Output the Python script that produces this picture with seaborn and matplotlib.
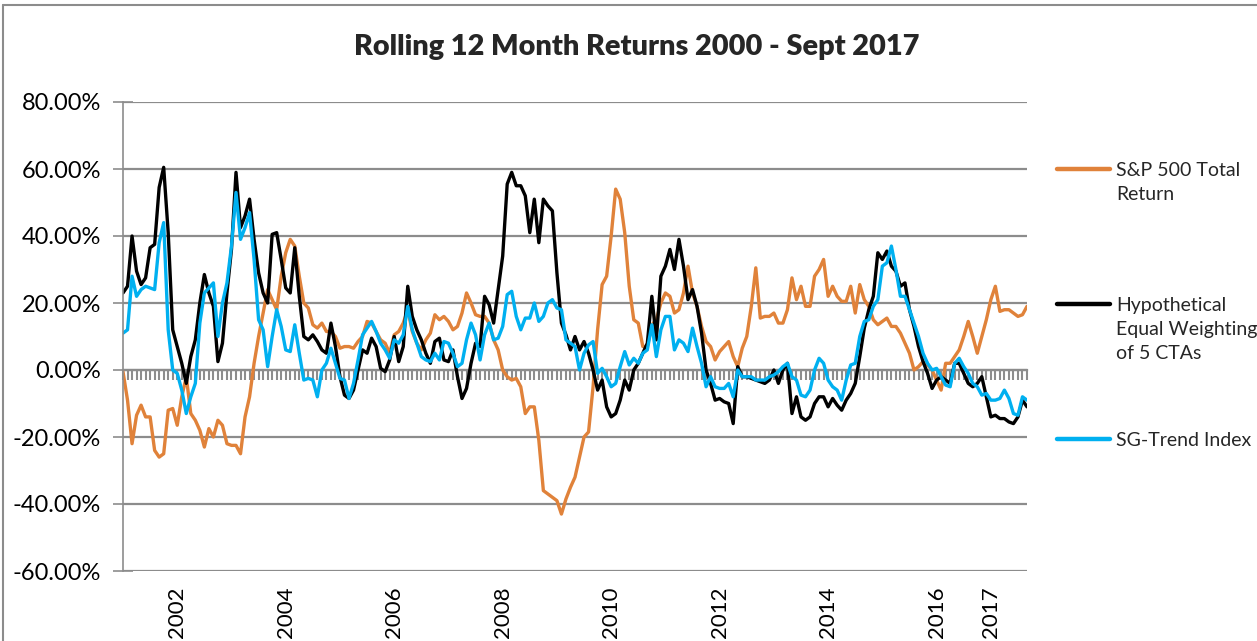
import numpy as np
import pandas as pd
import matplotlib
matplotlib.use("Agg")
import matplotlib.pyplot as plt
import seaborn as sns
from matplotlib.lines import Line2D
from matplotlib.ticker import FuncFormatter

# ---------------- data (rolling 12-month returns, %) ----------------
months = pd.date_range("2001-01-31", periods=201, freq="ME")

sp500 = [
    -0.5, -9, -22, -13.5, -10.5, -14, -14, -24, -26, -25, -12, -11.5, -16.5, -8, -2, -13, -15, -18, -23, -17.5,
    -20, -15, -16.5, -22, -22.5, -22.5, -25, -14, -8, 2, 10, 17, 24,
    21, 18, 28, 35, 39, 37, 28, 20, 18.5, 13.5, 12.5, 14, 11.5, 11.5, 10, 6.5, 7, 7, 6.5, 8.5, 10, 14.5,
    14, 11.5, 9, 8, 5, 10.5, 11.5, 14, 18, 11.5, 8,
    6, 9, 11, 16.5, 15, 16, 14.5, 12, 13, 17, 23, 20, 16.5, 16, 16, 14, 9, 6, 0, -2, -3, -2.5, -5, -13,
    -11, -11, -21, -36, -37, -38, -39, -43, -38.5, -35,
    -32, -26, -20, -18.5, -5, 12, 25.5, 28, 40, 54, 51, 41, 25, 15, 14, 7, 7, 13.5, 15, 20, 23, 22, 17, 18,
    23, 31, 23, 19, 13, 8.5, 7, 3, 5.5,
    7, 8.5, 4, 1, 6.5, 10, 19, 30.5, 15.5, 16, 16, 17, 14, 14, 18, 27.5, 21, 25, 19, 19, 28, 30, 33, 22,
    25, 22, 20.5, 20.5, 25, 17, 25.5,
    21, 19, 15, 13.5, 14.5, 15.5, 13, 13, 11, 8, 5, 0, 1, 2.5, 1.5, 0, -3, -6, 2, 2, 4, 6, 10, 14.5, 10, 5,
    10, 15, 21, 25, 17.5, 18, 18, 17, 16, 16.5, 19,
]

cta = [
    23, 25, 40, 29.5, 25.5, 27.5, 36.5, 37.5, 54.5, 60.5, 41, 12, 7, 2, -4, 4, 9, 20, 28.5, 23, 19, 2.5, 8,
    23, 36, 59, 42.5, 46, 51, 39, 29, 23, 20,
    40.5, 41, 33, 24.5, 23, 36.5, 22, 10, 9, 10.5, 8.5, 6, 5, 14, 7, -2, -7.5, -8.5, -6, 0, 6, 5, 9.5, 7,
    0.5, -0.5, 3, 10, 2.5, 7, 25, 16, 12,
    9, 5, 2, 8.5, 9.5, 3, 2.5, 6, -2, -8.5, -5.5, 2, 8, 7, 22, 19.5, 14, 24, 34, 55.5, 59, 55, 55, 52, 41,
    51, 38, 51, 49, 47.5, 29, 14, 10.5, 6,
    10, 6, 8.5, 5, 0, -6, -3, -11, -14, -13, -9, -3, -6, 0, 2, 5, 8, 22, 9, 28, 31, 36, 30, 39, 31, 21, 24,
    19, 11, 0, -4, -9, -8.5,
    -9.5, -10, -16, 1, -2, -2, -2.5, -3, -3.5, -4, -3, 0, -4, 0, 2, -13, -8, -14, -15, -14, -10, -8, -8,
    -11, -8.5, -10.5, -12, -9, -7, -4, 4,
    12.5, 18, 22, 35, 33, 35.5, 31, 29.5, 25, 26, 18, 13, 7, 2.5, -1, -5.5, -3, -2, -3, -4, 2, 2, -1, -4,
    -5, -4, -2, -8, -14, -13.5, -14.5, -14.5, -15.5, -16, -14, -9, -11,
]

sg_trend = [
    11, 12, 28, 22, 24, 25, 24.5, 24, 38, 44, 12, 0, -1, -6, -13, -8, -4, 14, 23, 24.5, 26, 10, 20, 26, 37,
    53, 39, 42.5, 47, 33, 15, 12, 1,
    10, 18, 13, 6, 5.5, 13.5, 5, -3, -2.5, -3, -8, 0, 2, 6.5, 2, -2.5, -3, -8.5, -4, 3, 10.5, 12.5, 14.5,
    11.5, 8, 6, 3.5, 9, 8, 10.5, 19, 12, 8,
    4, 3, 2.5, 5, 3, 8.5, 8, 5, 1, 2, 9, 14, 10.5, 3, 10.5, 14, 9, 9.5, 13, 22.5, 23.5, 16, 12, 15.5, 15.5,
    20, 14.5, 16, 20, 21, 18.5, 18, 9, 8,
    7, 0, 5, 7.5, 8.5, -1, 0.5, -2, -5, -4, 1, 5.5, 1.5, 3.5, 2, 5, 6, 13.5, 4, 12, 16, 16, 6, 9, 8, 5.5,
    12.5, 7, 2, -5, -2, -5, -5.5,
    -5.5, -4, -8, 0, -2, -2, -2, -3, -3, -3, -2, -1.5, -0.5, 1, 2, -2, -3, -7.5, -8, -6, 0, 3.5, 2, -3, -5,
    -6, -9, -3, 1.5, 2, 10,
    14.5, 15, 19, 21, 31, 32, 37, 30, 22, 22, 18, 14, 10, 5, 2, 0, 0.5, -2, -4.5, -5, 2, 3.5, 1, -1, -4,
    -5, -7.5, -7, -9, -9, -8.5, -6, -8.5, -13, -13.5, -8, -9,
]

series_names = ["S&P 500 Total Return", "Hypothetical Equal Weighting of 5 CTAs", "SG-Trend Index"]
legend_labels = ["S&P 500 Total\nReturn\n", "Hypothetical\nEqual Weighting\nof 5 CTAs", "SG-Trend Index"]
series_colors = ["#E0823A", "#000000", "#00B0F0"]
year_ticks = [2002, 2004, 2006, 2008, 2010, 2012, 2014, 2016, 2017]
y_ticks = [-60, -40, -20, 0, 20, 40, 60, 80]
title = "Rolling 12 Month Returns 2000 - Sept 2017"

# ---------------- frame ----------------
t = np.asarray(months.year + (months.month - 1) / 12.0, dtype=float)
wide = pd.DataFrame({"t": t, series_names[0]: sp500, series_names[1]: cta, series_names[2]: sg_trend})
long_df = wide.melt(id_vars="t", var_name="series", value_name="value")

sns.set_theme(style="white")
plt.rcParams["font.family"] = ["Lato", "DejaVu Sans"]

W, H = 1257, 641
fig = plt.figure(figsize=(W / 100, H / 100), dpi=100)
ax = fig.add_axes([123 / W, 1 - 571 / H, (1027 - 123) / W, (571 - 102) / H])

sns.lineplot(data=long_df, x="t", y="value", hue="series", hue_order=series_names,
             palette=dict(zip(series_names, series_colors)), linewidth=2.4,
             estimator=None, sort=False, legend=False, ax=ax)

grid_col = "#8C8C8C"
ax.set_xlim(t[0], t[-1])
ax.set_ylim(-60, 80)
ax.set_yticks(y_ticks)
ax.yaxis.set_major_formatter(FuncFormatter(lambda v, p: f"{v:.2f}%"))
ax.grid(axis="y", color=grid_col, linewidth=1.6)
ax.grid(axis="x", visible=False)
ax.set_axisbelow(True)
for s in ["top", "right", "bottom"]:
    ax.spines[s].set_visible(False)
ax.spines["left"].set_color(grid_col)
ax.spines["left"].set_linewidth(1.2)
ax.tick_params(axis="y", which="major", left=True, direction="inout", length=14, width=1.2,
               color=grid_col, labelsize=17, pad=9, labelcolor="black")

ax.set_xticks(year_ticks)
ax.set_xticklabels([str(y) for y in year_ticks], rotation=90)
ax.tick_params(axis="x", which="major", bottom=False, length=0, labelsize=16, pad=11, labelcolor="black")
ax.set_xlabel("")
ax.set_ylabel("")

# category axis crossing at zero with monthly tick marks
sec = ax.secondary_xaxis(60 / 140)
sec.set_xticks(t)
sec.set_xticklabels([])
sec.tick_params(axis="x", length=7, width=1.5, color=grid_col, direction="out", labelbottom=False)
for s in sec.spines.values():
    s.set_color(grid_col)
    s.set_linewidth(1.6)

fig.text(637 / W, 1 - 47 / H, title, ha="center", va="center", fontsize=20.8, fontweight="heavy")

handles = [Line2D([], [], color=c, linewidth=3.2) for c in series_colors]
leg = fig.legend(handles=handles, labels=legend_labels, loc="upper left",
                 bbox_to_anchor=(1057 / W, 1 - 162 / H), frameon=False, fontsize=14,
                 handlelength=2.75, handletextpad=0.3, labelspacing=3.6,
                 borderpad=0, borderaxespad=0)
for txt in leg.get_texts():
    txt.set_linespacing(1.5)
for col in leg._legend_handle_box.get_children():
    for item in col.get_children():
        item.align = "top"

# outer chart border (top and left visible in the crop)
fig.add_artist(Line2D([3 / W, 3 / W], [0, 1 - 5 / H], transform=fig.transFigure, color=grid_col, linewidth=1.5))
fig.add_artist(Line2D([3 / W, 1], [1 - 5 / H, 1 - 5 / H], transform=fig.transFigure, color=grid_col, linewidth=1.5))

fig.savefig("out.png", dpi=100)
